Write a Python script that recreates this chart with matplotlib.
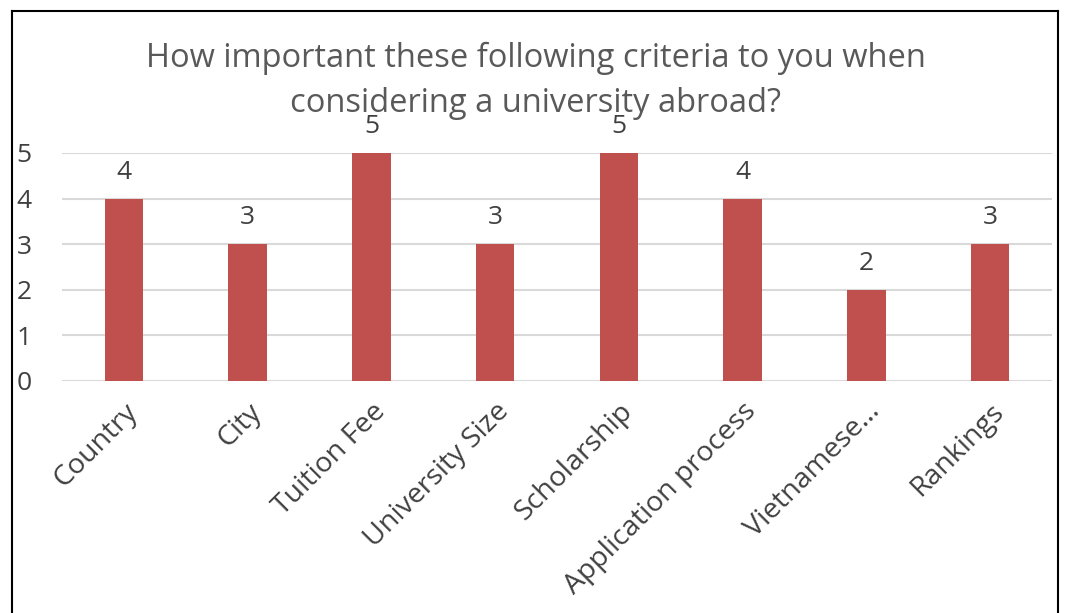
import matplotlib
matplotlib.use("Agg")
import matplotlib.pyplot as plt
from matplotlib.lines import Line2D

categories = ["Country", "City", "Tuition Fee", "University Size", "Scholarship",
              "Application process", "Vietnamese…", "Rankings"]
values = [4, 3, 5, 3, 5, 4, 2, 3]
y_ticks = [0, 1, 2, 3, 4, 5]
title = "How important these following criteria to you when\nconsidering a university abroad?"

plt.rcParams['font.family'] = ['Open Sans', 'DejaVu Sans']
text_color = "#404040"

fig = plt.figure(figsize=(10.71, 6.13), dpi=100)
W, H = 1071, 613
# plot area in pixels: left 62, right 1052, y0 at 381, y5 at 153
ax = fig.add_axes([62 / W, 1 - 381 / H, (1052 - 62) / W, (381 - 153) / H])

x = range(len(categories))
bars = ax.bar(x, values, width=0.31, color="#C0504D", zorder=3)
for b, v in zip(bars, values):
    ax.annotate(str(v), (b.get_x() + b.get_width() / 2, v), xytext=(0, 10),
                textcoords="offset points", ha="center", va="bottom",
                fontsize=19, color=text_color)

ax.set_xlim(-0.5, len(categories) - 0.5)
ax.set_ylim(0, 5)
ax.set_yticks(y_ticks)
ax.set_yticklabels([str(t) for t in y_ticks], fontsize=19, color=text_color)
ax.tick_params(axis="y", length=0, pad=22)
ax.set_xticks(list(x))
ax.set_xticklabels(categories, fontsize=20.5, color=text_color, rotation=45,
                   ha="right", rotation_mode="anchor")
ax.tick_params(axis="x", length=0, pad=12)
ax.grid(axis="y", color="#D9D9D9", linewidth=1.5, zorder=0)
for s in ax.spines.values():
    s.set_visible(False)

# title sits close to the top labels, as in the original
fig.text(0.5, 1 - 81 / H, title, ha="center", va="center", fontsize=23.5,
         color="#595959", linespacing=1.45)

# chart border
bl, br, bt = 12 / W, 1058 / W, 1 - 11 / H
fig.add_artist(Line2D([bl, bl], [0, bt], color="black", lw=1.5, transform=fig.transFigure))
fig.add_artist(Line2D([bl, br], [bt, bt], color="black", lw=1.5, transform=fig.transFigure))
fig.add_artist(Line2D([br, br], [0, bt], color="black", lw=1.5, transform=fig.transFigure))

fig.savefig("out.png", dpi=100)
